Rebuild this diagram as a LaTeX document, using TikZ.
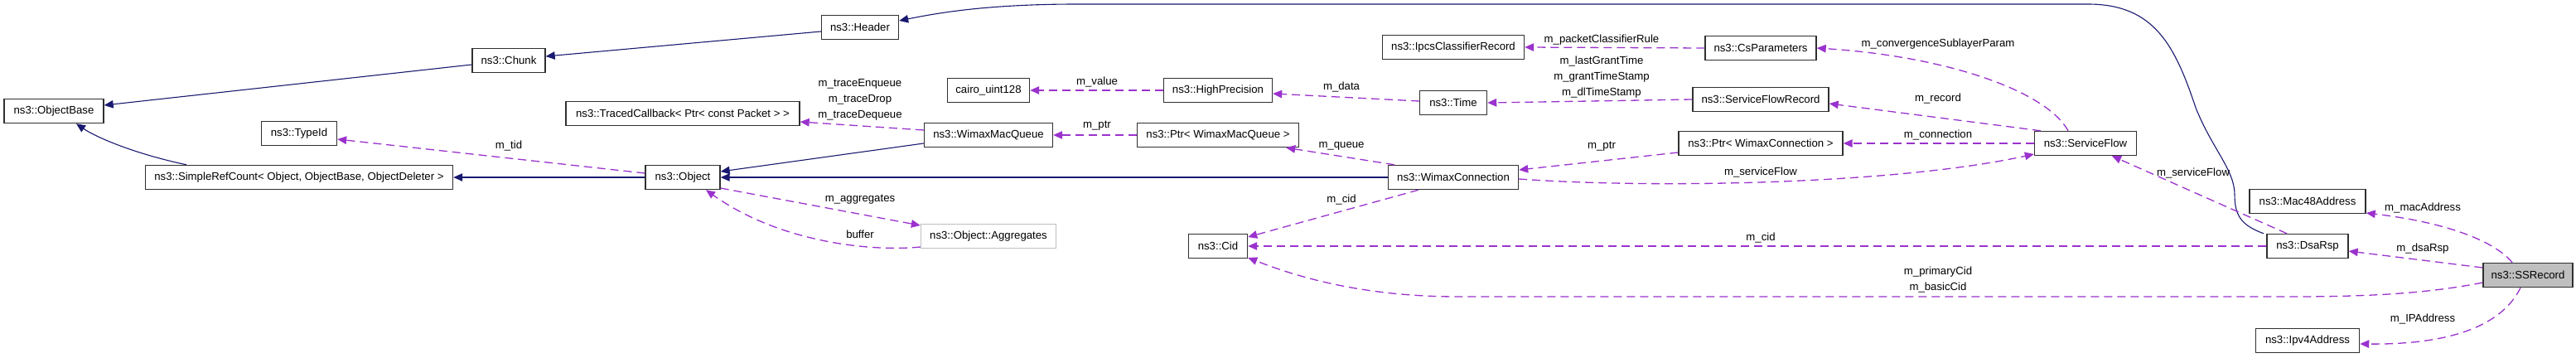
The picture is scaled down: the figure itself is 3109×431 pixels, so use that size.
\documentclass[tikz,border=0pt]{standalone}
\usepackage{fontspec}
\setmainfont{Liberation Sans}
\usetikzlibrary{arrows.meta}
\definecolor{inhblue}{HTML}{191970}
\definecolor{usepurple}{HTML}{9A32CD}
\definecolor{boxgray}{HTML}{BFBFBF}
\definecolor{boxline}{HTML}{303030}

\begin{document}
\begin{tikzpicture}[x=1pt,y=-1pt,
   cls/.style={draw=boxline,fill=white,line width=1.4pt,inner sep=0pt,minimum height=29pt,font=\fontsize{13.2}{15}\selectfont},
   lbl/.style={inner sep=0pt,align=center,font=\fontsize{13.2}{19}\selectfont},
   inherit/.style={draw=inhblue,line width=1.1pt,-{Triangle[length=11pt,width=9.5pt]}},
   member/.style={draw=usepurple,line width=1.3pt,dash pattern=on 10pt off 6pt,-{Triangle[length=11pt,width=9.5pt]}}]
   \useasboundingbox (0,0) rectangle (3109,431);

   \node[cls,minimum width=120pt] (objbase) at (65,134) {ns3::ObjectBase};
   \node[cls,minimum width=88pt] (chunk) at (614,73) {ns3::Chunk};
   \node[cls,minimum width=91pt] (typeid) at (361,161) {ns3::TypeId};
   \node[cls,minimum width=371pt] (simplerc) at (361,214) {ns3::SimpleRefCount< Object, ObjectBase, ObjectDeleter >};
   \node[cls,minimum width=93pt] (header) at (1038,33) {ns3::Header};
   \node[cls,minimum width=282pt] (traced) at (824,137) {ns3::TracedCallback< Ptr< const Packet > >};
   \node[cls,minimum width=90pt] (object) at (824,214) {ns3::Object};
   \node[cls,draw=boxgray,minimum width=163pt] (aggr) at (1193,285) {ns3::Object::Aggregates};
   \node[cls,minimum width=99pt] (cairo) at (1193,109) {cairo\_uint128};
   \node[cls,minimum width=155pt] (macqueue) at (1193,163) {ns3::WimaxMacQueue};
   \node[cls,minimum width=131pt] (highprec) at (1470,109) {ns3::HighPrecision};
   \node[cls,minimum width=195pt] (ptrqueue) at (1470,163) {ns3::Ptr< WimaxMacQueue >};
   \node[cls,minimum width=71pt] (cid) at (1470,297) {ns3::Cid};
   \node[cls,minimum width=171pt] (ipcs) at (1754,57) {ns3::IpcsClassifierRecord};
   \node[cls,minimum width=81pt] (time) at (1754,124) {ns3::Time};
   \node[cls,minimum width=157pt] (wimaxconn) at (1754,214) {ns3::WimaxConnection};
   \node[cls,minimum width=134pt] (csparam) at (2125,58) {ns3::CsParameters};
   \node[cls,minimum width=164pt] (sfrecord) at (2125,120) {ns3::ServiceFlowRecord};
   \node[cls,minimum width=198pt] (ptrconn) at (2125,173) {ns3::Ptr< WimaxConnection >};
   \node[cls,minimum width=123pt] (serviceflow) at (2517,173) {ns3::ServiceFlow};
   \node[cls,minimum width=140pt] (mac48) at (2785,243) {ns3::Mac48Address};
   \node[cls,minimum width=98pt] (dsarsp) at (2785,297) {ns3::DsaRsp};
   \node[cls,minimum width=125pt] (ipv4) at (2785,411) {ns3::Ipv4Address};
   \node[cls,fill=boxgray,minimum width=108pt] (ssrecord) at (3051,332) {ns3::SSRecord};

   % inheritance
   \draw[inherit] ([yshift=-5pt]chunk.west) -- ([yshift=7pt]objbase.east);
   \draw[inherit] ([yshift=-5pt]header.west) -- ([yshift=5pt]chunk.east);
   \draw[inherit] ([xshift=-136pt]simplerc.north) .. controls (160,185) and (115,165) .. ([xshift=27pt]objbase.south);
   \draw[inherit] (object.west) -- (simplerc.east);
   \draw[inherit] ([yshift=-10pt]macqueue.west) -- ([yshift=7pt]object.east);
   \draw[inherit] (wimaxconn.west) -- (object.east);
   \draw[inherit] ([xshift=-53pt]dsarsp.north) .. controls (2705,272) and (2697,260) .. (2697,235)
      .. controls (2697,205) and (2670,180) .. (2650,130)
      .. controls (2625,55) and (2600,5) .. (2520,5) -- (1300,5)
      .. controls (1190,5) and (1130,16) .. ([yshift=8pt]header.east);

   % members
   \draw[member] ([yshift=5pt]object.west) -- ([yshift=-7pt]typeid.east);
   \draw[member] ([yshift=-13pt]object.east) -- ([yshift=13pt]aggr.west);
   \draw[member] ([yshift=-13pt]aggr.west) .. controls (1050,304) and (940,292) .. ([xshift=28pt]object.south);
   \draw[member] ([yshift=6pt]macqueue.west) -- ([yshift=-10pt]traced.east);
   \draw[member] (ptrqueue.west) -- (macqueue.east);
   \draw[member] (highprec.west) -- (cairo.east);
   \draw[member] ([yshift=2pt]time.west) -- ([yshift=-4pt]highprec.east);
   \draw[member] ([xshift=8pt]wimaxconn.north west) -- ([xshift=-16pt]ptrqueue.south east);
   \draw[member] ([xshift=-42pt]wimaxconn.south) -- ([yshift=11pt]cid.east);
   \draw[member] ([yshift=-11pt]ptrconn.west) -- ([yshift=9pt]wimaxconn.east);
   \draw[member] ([yshift=-2pt]wimaxconn.east) .. controls (2000,228) and (2290,222) .. ([yshift=-13pt]serviceflow.west);
   \draw[member] (serviceflow.west) -- (ptrconn.east);
   \draw[member] ([xshift=8pt]serviceflow.north west) -- ([yshift=-5pt]sfrecord.east);
   \draw[member] ([xshift=-21pt]serviceflow.north) .. controls (2470,110) and (2350,68) .. (csparam.east);
   \draw[member] (csparam.west) -- (ipcs.east);
   \draw[member] (sfrecord.west) -- (time.east);
   \draw[member] ([xshift=-25pt]dsarsp.north) -- ([xshift=32pt]serviceflow.south);
   \draw[member] (dsarsp.west) -- (cid.east);
   \draw[member] ([yshift=-9pt]ssrecord.west) .. controls (2900,360) and (2800,358) .. (2700,358) -- (1760,358)
      .. controls (1640,358) and (1560,332) .. ([yshift=-14pt]cid.east);
   \draw[member] ([yshift=9pt]ssrecord.west) -- ([yshift=-6pt]dsarsp.east);
   \draw[member] ([xshift=-19pt]ssrecord.north) .. controls (3010,290) and (2950,268) .. ([yshift=-14pt]mac48.east);
   \draw[member] ([xshift=-9pt]ssrecord.south) .. controls (3020,392) and (2960,416) .. ([yshift=-4pt]ipv4.east);

   % labels
   \node[lbl] (l-tid) at (614,176) {m\_tid};
   \node[lbl] (l-trace) at (1038,120) {m\_traceEnqueue\\m\_traceDrop\\m\_traceDequeue};
   \node[lbl] (l-aggr) at (1038,241) {m\_aggregates};
   \node[lbl] (l-buffer) at (1038,283) {buffer};
   \node[lbl] (l-value) at (1324,99) {m\_value};
   \node[lbl] (l-ptrq) at (1324,152) {m\_ptr};
   \node[lbl] (l-data) at (1619,105) {m\_data};
   \node[lbl] (l-queue) at (1619,176) {m\_queue};
   \node[lbl] (l-cidw) at (1619,241) {m\_cid};
   \node[lbl] (l-rule) at (1933,48) {m\_packetClassifierRule};
   \node[lbl] (l-times) at (1933,93) {m\_lastGrantTime\\m\_grantTimeStamp\\m\_dlTimeStamp};
   \node[lbl] (l-ptrc) at (1933,177) {m\_ptr};
   \node[lbl] (l-sfw) at (2125,208) {m\_serviceFlow};
   \node[lbl] (l-cidd) at (2125,287) {m\_cid};
   \node[lbl] (l-cids) at (2339,338) {m\_primaryCid\\m\_basicCid};
   \node[lbl] (l-conv) at (2339,53) {m\_convergenceSublayerParam};
   \node[lbl] (l-record) at (2339,119) {m\_record};
   \node[lbl] (l-conn) at (2339,163) {m\_connection};
   \node[lbl] (l-sfd) at (2647,209) {m\_serviceFlow};
   \node[lbl] (l-mac) at (2924,251) {m\_macAddress};
   \node[lbl] (l-dsa) at (2924,300) {m\_dsaRsp};
   \node[lbl] (l-ip) at (2924,385) {m\_IPAddress};
\end{tikzpicture}
\end{document}
